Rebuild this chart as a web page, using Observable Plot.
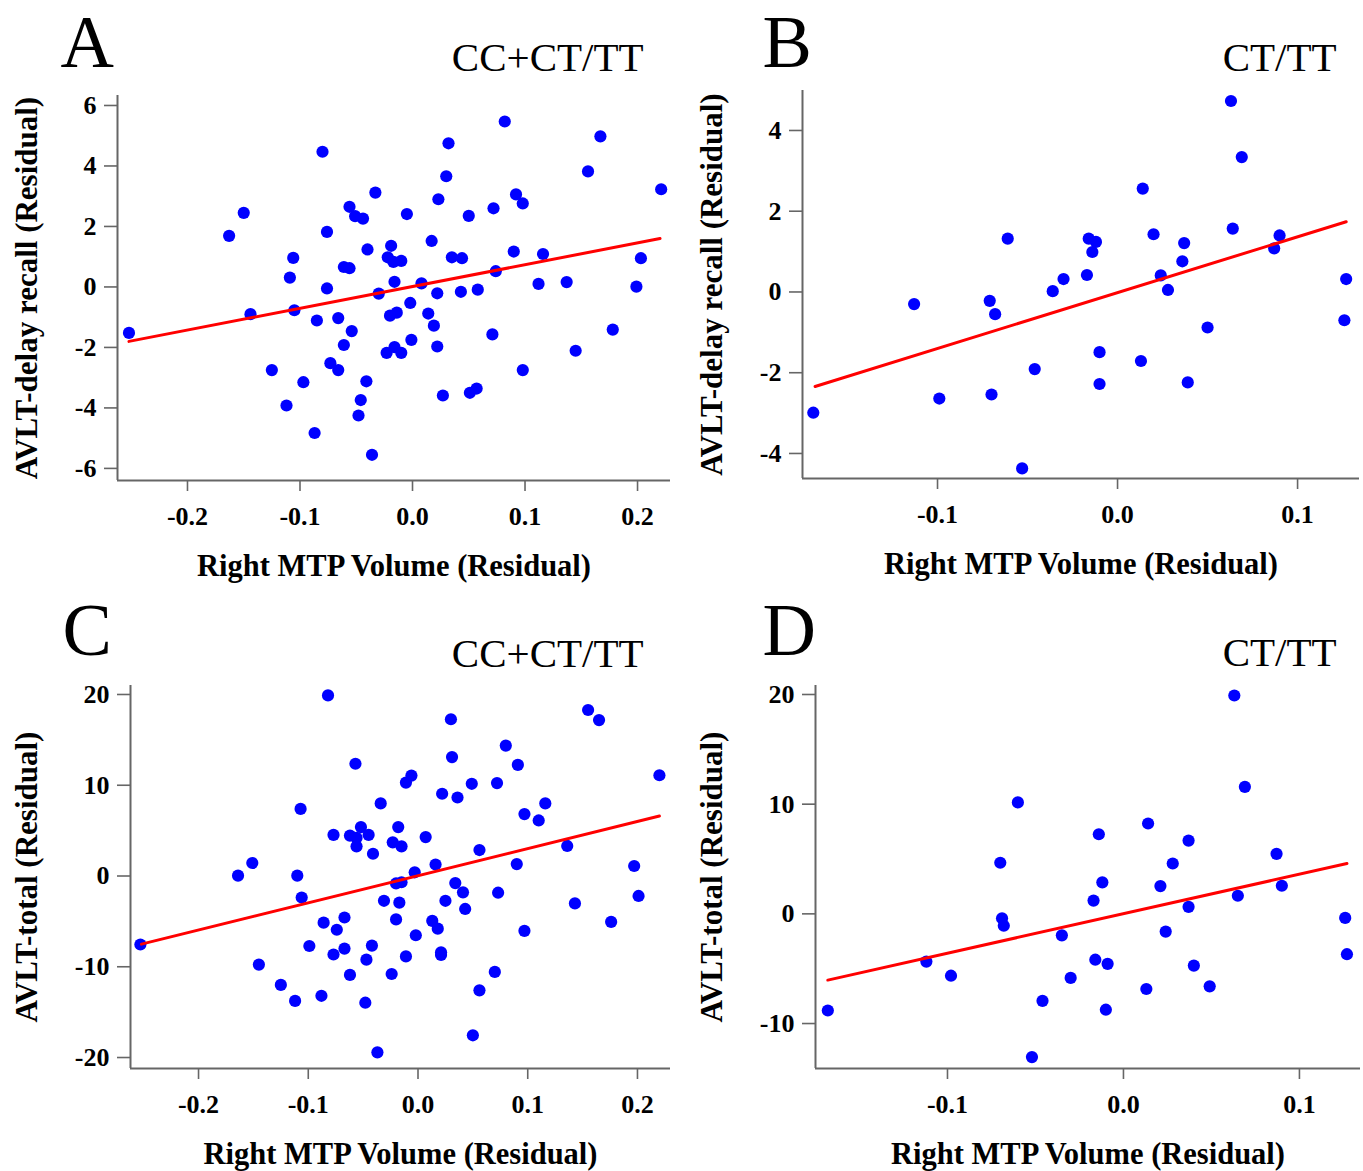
<!DOCTYPE html>
<html>
<head>
<meta charset="utf-8">
<script src="https://cdn.jsdelivr.net/npm/d3@7"></script>
<script src="https://cdn.jsdelivr.net/npm/@observablehq/plot@0.6"></script>
<style>
html, body { margin: 0; padding: 0; background: #fff; }
#root { position: relative; width: 1363px; height: 1171px; overflow: hidden; background: #fff; }
#root svg { position: absolute; }
</style>
</head>
<body>
<div id="root"></div>
<script>
// ---------- text ----------
const xTitle = "Right MTP Volume (Residual)";
const yTitleDelay = "AVLT-delay recall (Residual)";
const yTitleTotal = "AVLT-total (Residual)";
const panelLetters = ["A", "B", "C", "D"];
const groupLabels = ["CC+CT/TT", "CT/TT", "CC+CT/TT", "CT/TT"];

// ---------- tick values ----------
const xTicksAll = [-0.2, -0.1, 0, 0.1, 0.2];
const xTicksCT = [-0.1, 0, 0.1];
const yTicksA = [-6, -4, -2, 0, 2, 4, 6];
const yTicksB = [-4, -2, 0, 2, 4];
const yTicksC = [-20, -10, 0, 10, 20];
const yTicksD = [-10, 0, 10, 20];

// ---------- points [volume residual, score residual] ----------
const pointsA = [
  [-0.252,-1.52],[-0.163,1.69],[-0.150,2.45],[-0.144,-0.90],[-0.125,-2.75],[-0.112,-3.92],
  [-0.106,0.96],[-0.109,0.31],[-0.105,-0.77],[-0.097,-3.15],[-0.087,-4.83],[-0.085,-1.11],
  [-0.080,4.47],[-0.076,1.82],[-0.076,-0.05],[-0.073,-2.52],[-0.066,-2.75],[-0.066,-1.03],
  [-0.061,0.66],[-0.056,0.62],[-0.061,-1.92],[-0.054,-1.46],[-0.056,2.65],[-0.051,2.34],
  [-0.044,2.26],[-0.040,1.24],[-0.041,-3.12],[-0.046,-3.74],[-0.048,-4.25],[-0.036,-5.55],
  [-0.033,3.12],[-0.030,-0.22],[-0.023,-2.18],[-0.022,0.98],[-0.019,1.36],[-0.017,0.83],
  [-0.016,0.17],[-0.020,-0.95],[-0.014,-0.85],[-0.016,-1.99],[-0.010,-2.18],[-0.010,0.86],
  [-0.005,2.41],[-0.002,-0.53],[-0.001,-1.75],[0.008,0.12],[0.014,-0.88],[0.017,1.52],
  [0.019,-1.28],[0.022,-0.21],[0.022,-1.97],[0.023,2.90],[0.027,-3.59],[0.030,3.66],
  [0.032,4.75],[0.035,0.98],[0.044,0.95],[0.043,-0.16],[0.050,2.35],[0.051,-3.50],
  [0.057,-3.36],[0.058,-0.09],[0.071,-1.57],[0.072,2.60],[0.074,0.52],[0.082,5.47],
  [0.090,1.17],[0.092,3.06],[0.098,2.76],[0.098,-2.75],[0.112,0.10],[0.116,1.09],
  [0.137,0.16],[0.145,-2.11],[0.156,3.82],[0.167,4.98],[0.178,-1.41],[0.199,0.01],
  [0.203,0.95],[0.221,3.23]
];
const pointsB = [
  [-0.169,-2.99],[-0.113,-0.30],[-0.099,-2.64],[-0.071,-0.22],[-0.068,-0.55],[-0.070,-2.54],
  [-0.061,1.32],[-0.053,-4.37],[-0.046,-1.91],[-0.036,0.02],[-0.030,0.32],[-0.017,0.42],
  [-0.016,1.32],[-0.012,1.24],[-0.014,0.99],[-0.010,-1.49],[-0.010,-2.28],[0.013,-1.71],
  [0.014,2.56],[0.020,1.43],[0.024,0.41],[0.028,0.05],[0.036,0.76],[0.037,1.21],
  [0.039,-2.24],[0.050,-0.88],[0.063,4.73],[0.064,1.57],[0.069,3.34],[0.087,1.08],
  [0.090,1.40],[0.126,-0.70],[0.127,0.32]
];
const pointsC = [
  [-0.253,-7.55],[-0.164,0.04],[-0.151,1.43],[-0.145,-9.76],[-0.125,-12.0],[-0.112,-13.76],
  [-0.110,0.04],[-0.107,7.39],[-0.106,-2.37],[-0.099,-7.71],[-0.088,-13.2],[-0.086,-5.14],
  [-0.082,19.9],[-0.077,4.53],[-0.077,-8.65],[-0.074,-5.92],[-0.067,-8.0],[-0.067,-4.57],
  [-0.062,-10.9],[-0.062,4.45],[-0.057,12.37],[-0.056,3.27],[-0.056,4.2],[-0.052,5.39],
  [-0.048,-13.96],[-0.047,-9.22],[-0.045,4.53],[-0.042,-7.67],[-0.041,2.45],[-0.037,-19.43],
  [-0.034,8.0],[-0.031,-2.73],[-0.024,-10.8],[-0.023,3.71],[-0.020,-4.78],[-0.020,-0.82],
  [-0.018,5.39],[-0.017,-2.94],[-0.015,3.27],[-0.015,-0.69],[-0.011,-8.86],[-0.011,10.29],
  [-0.006,11.06],[-0.003,0.41],[-0.002,-6.53],[0.007,4.29],[0.013,-4.94],[0.016,1.27],
  [0.018,-5.8],[0.021,-8.7],[0.021,-8.4],[0.022,9.06],[0.025,-2.73],[0.030,17.27],
  [0.031,13.1],[0.034,-0.78],[0.036,8.65],[0.041,-1.8],[0.043,-3.63],[0.049,10.16],
  [0.050,-17.55],[0.056,-12.6],[0.056,2.86],[0.070,-10.57],[0.072,10.24],[0.073,-1.84],
  [0.080,14.37],[0.090,1.31],[0.091,12.24],[0.097,6.82],[0.097,-6.04],[0.110,6.12],
  [0.116,8.0],[0.136,3.31],[0.143,-3.02],[0.155,18.29],[0.165,17.18],[0.176,-5.06],
  [0.197,1.1],[0.201,-2.2],[0.220,11.1]
];
const pointsD = [
  [-0.168,-8.81],[-0.112,-4.35],[-0.098,-5.64],[-0.070,4.66],[-0.069,-0.40],[-0.068,-1.08],
  [-0.060,10.16],[-0.052,-13.06],[-0.046,-7.93],[-0.035,-1.96],[-0.030,-5.84],[-0.017,1.21],
  [-0.016,-4.18],[-0.014,7.26],[-0.012,2.87],[-0.009,-4.56],[-0.010,-8.74],[0.013,-6.85],
  [0.014,8.24],[0.021,2.53],[0.024,-1.62],[0.028,4.59],[0.037,0.64],[0.037,6.68],
  [0.040,-4.72],[0.049,-6.61],[0.063,19.91],[0.065,1.65],[0.069,11.58],[0.087,5.47],
  [0.090,2.56],[0.126,-0.37],[0.127,-3.68]
];

// ---------- fitted regression lines (end points) ----------
const fitA = [[-0.252,-1.80],[0.220,1.60]];
const fitB = [[-0.168,-2.34],[0.127,1.74]];
const fitC = [[-0.252,-7.51],[0.220,6.61]];
const fitD = [[-0.168,-6.04],[0.127,4.59]];

// ---------- layout ----------
const FONT = "'Liberation Serif', 'Times New Roman', serif";
const panels = [
  { letter: panelLetters[0], group: groupLabels[0], yTitle: yTitleDelay, pts: pointsA, fit: fitA,
    xTicks: xTicksAll, yTicks: yTicksA, left: 0, top: 0, width: 680, height: 590,
    m: [95, 10, 110, 117], xDom: [-0.2622, 0.2293], yDom: [-6.40, 6.33],
    letterPos: [-57, -52], groupPos: [-27, -38], yTitleDx: -90 },
  { letter: panelLetters[1], group: groupLabels[1], yTitle: yTitleDelay, pts: pointsB, fit: fitB,
    xTicks: xTicksCT, yTicks: yTicksB, left: 680, top: 0, width: 683, height: 590,
    m: [90, 4, 112, 122], xDom: [-0.175, 0.1344], yDom: [-4.62, 4.99],
    letterPos: [-40, -47], groupPos: [-23, -33], yTitleDx: -90 },
  { letter: panelLetters[2], group: groupLabels[2], yTitle: yTitleTotal, pts: pointsC, fit: fitC,
    xTicks: xTicksAll, yTicks: yTicksC, left: 0, top: 590, width: 680, height: 581,
    m: [95, 10, 103, 130], xDom: [-0.262, 0.2301], yDom: [-21.21, 20.99],
    letterPos: [-68, -54], groupPos: [-27, -32], yTitleDx: -103 },
  { letter: panelLetters[3], group: groupLabels[3], yTitle: yTitleTotal, pts: pointsD, fit: fitD,
    xTicks: xTicksCT, yTicks: yTicksD, left: 680, top: 590, width: 683, height: 581,
    m: [95, 3, 103, 135], xDom: [-0.175, 0.1347], yDom: [-14.1, 20.82],
    letterPos: [-53, -54], groupPos: [-24, -33], yTitleDx: -103 }
];

const root = document.getElementById("root");
for (const p of panels) {
  const dots = p.pts.map(([x, y]) => ({x, y}));
  const fit = p.fit.map(([x, y]) => ({x, y}));
  const svg = Plot.plot({
    width: p.width,
    height: p.height,
    marginTop: p.m[0], marginRight: p.m[1], marginBottom: p.m[2], marginLeft: p.m[3],
    style: { fontFamily: FONT, background: "white", overflow: "visible", color: "black" },
    x: { domain: p.xDom, axis: null },
    y: { domain: p.yDom, axis: null },
    marks: [
      Plot.ruleX([p.xDom[0]], { stroke: "#666", strokeWidth: 2 }),
      Plot.ruleY([p.yDom[0]], { stroke: "#666", strokeWidth: 2 }),
      Plot.axisX(p.xTicks, { tickSize: 11, tickPadding: 15, tickFormat: d => d.toFixed(1),
        fontSize: 26, fontWeight: "bold", fontFamily: FONT, stroke: "#666", strokeWidth: 1.6, fill: "black", label: null }),
      Plot.axisY(p.yTicks, { tickSize: 13, tickPadding: 8, tickFormat: d => String(d),
        fontSize: 26, fontWeight: "bold", fontFamily: FONT, stroke: "#666", strokeWidth: 1.6, fill: "black", label: null }),
      Plot.dot(dots, { x: "x", y: "y", r: 6.1, fill: "#0000ff", stroke: "none" }),
      Plot.line(fit, { x: "x", y: "y", stroke: "#ff0000", strokeWidth: 3 }),
      Plot.text([xTitle], { frameAnchor: "bottom", text: d => d, dy: 86, lineAnchor: "middle", textAnchor: "middle",
        fontSize: 30.5, fontWeight: "bold", fontFamily: FONT, fill: "black" }),
      Plot.text([p.yTitle], { frameAnchor: "left", text: d => d, dx: p.yTitleDx, rotate: -90, lineAnchor: "middle", textAnchor: "middle",
        fontSize: 31, fontWeight: "bold", fontFamily: FONT, fill: "black" }),
      Plot.text([p.letter], { frameAnchor: "top-left", text: d => d, dx: p.letterPos[0], dy: p.letterPos[1],
        lineAnchor: "middle", textAnchor: "start", fontSize: 74, fontFamily: FONT, fill: "black" }),
      Plot.text([p.group], { frameAnchor: "top-right", text: d => d, dx: p.groupPos[0], dy: p.groupPos[1],
        lineAnchor: "middle", textAnchor: "end", fontSize: 41, fontFamily: FONT, fill: "black" })
    ]
  });
  svg.style.left = p.left + "px";
  svg.style.top = p.top + "px";
  root.appendChild(svg);
}
</script>
</body>
</html>
